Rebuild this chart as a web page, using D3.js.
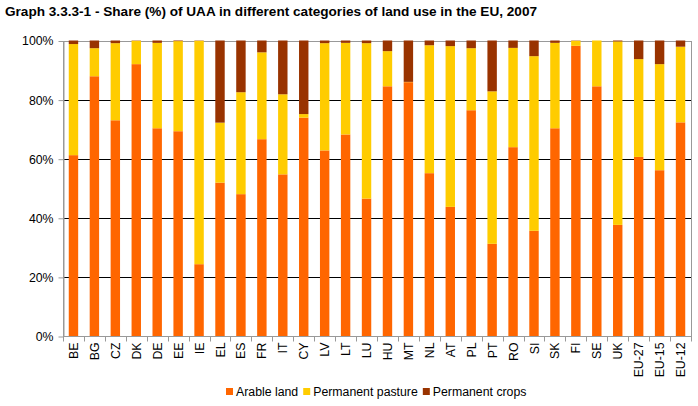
<!DOCTYPE html>
<html><head><meta charset="utf-8">
<script src="https://cdn.jsdelivr.net/npm/d3@7"></script>
<style>body{margin:0;background:#fff;}svg{display:block;font-family:"Liberation Sans",Arial,sans-serif;}</style>
</head><body>
<script>
const categories = ["BE","BG","CZ","DK","DE","EE","IE","EL","ES","FR","IT","CY","LV","LT","LU","HU","MT","NL","AT","PL","PT","RO","SI","SK","FI","SE","UK","EU-27","EU-15","EU-12"];
const arable =   [61.2,87.9,73.0,92.0,70.3,69.3,24.3,51.9,48.0,66.6,54.7,73.9,62.8,68.2,46.5,84.5,85.9,55.1,43.7,76.4,31.2,63.9,35.6,70.3,98.2,84.5,37.6,60.6,56.1,72.3];
const pasture =  [37.6, 9.5,26.1, 7.9,28.9,30.5,75.6,20.3,34.5,29.4,27.1, 1.2,36.3,31.0,52.6,11.9, 0.1,43.3,54.4,21.0,51.6,33.6,59.1,28.9, 1.7,15.5,62.1,33.1,35.9,25.6];
const crops =    [ 1.2, 2.6, 0.9, 0.1, 0.8, 0.2, 0.1,27.8,17.5, 4.0,18.2,24.9, 0.9, 0.8, 0.9, 3.6,14.0, 1.6, 1.9, 2.6,17.2, 2.5, 5.3, 0.8, 0.1, 0.0, 0.3, 6.3, 8.0, 2.1];
const seriesNames = ["Arable land","Permanent pasture","Permanent crops"];
const yTicks = [0,20,40,60,80,100];
const title = "Graph 3.3.3-1 - Share (%) of UAA in different categories of land use in the EU, 2007";

const W=698,H=406;
const m={l:63,r:7,t:40.5,b:70};
const colors=["#FF6600","#FFCC00","#993300"];
const svg=d3.select("body").append("svg").attr("width",W).attr("height",H);

svg.append("text").attr("x",5).attr("y",16).attr("font-size",13.6).attr("font-weight","bold").text(title);

const x=d3.scaleBand().domain(categories).range([m.l,W-m.r]).paddingInner(0.55).paddingOuter(0.275);
const y=d3.scaleLinear().domain([0,100]).range([H-m.b,m.t]);

svg.append("g").selectAll("line").data(yTicks.filter(d=>d>0&&d<100)).join("line")
 .attr("x1",m.l).attr("x2",W-m.r).attr("y1",d=>Math.round(y(d))+0.5).attr("y2",d=>Math.round(y(d))+0.5)
 .attr("stroke","#000").attr("stroke-width",1);

svg.append("rect").attr("x",m.l+0.5).attr("y",Math.round(y(100))+0.5).attr("width",W-m.r-m.l).attr("height",Math.round(y(0))-Math.round(y(100)))
 .attr("fill","none").attr("stroke","#999");

const rows=categories.map((c,i)=>({cat:c,"0":arable[i],"1":pasture[i],"2":crops[i]}));
const stack=d3.stack().keys(["0","1","2"]).offset(d3.stackOffsetExpand);
const layers=stack(rows);
svg.append("g").selectAll("g").data(layers).join("g").attr("fill",(d,i)=>colors[i])
 .selectAll("rect").data(d=>d).join("rect")
 .attr("x",d=>x(d.data.cat)).attr("width",x.bandwidth())
 .attr("y",d=>y(d[1]*100)).attr("height",d=>y(d[0]*100)-y(d[1]*100));

const ya=svg.append("g").attr("transform",`translate(${m.l+0.5},0.5)`)
 .call(d3.axisLeft(y).tickValues(yTicks).tickFormat(d=>d+"%").tickSize(5).tickSizeOuter(0));
ya.select(".domain").attr("stroke","#999");
ya.selectAll(".tick line").attr("stroke","#999");
ya.selectAll(".tick text").attr("font-size",12.3).attr("fill","#000").attr("font-family","Liberation Sans, Arial, sans-serif").attr("dx","-2");

const x0=Math.round(y(0))+0.5;
svg.append("line").attr("x1",m.l).attr("x2",W-m.r+0.5).attr("y1",x0).attr("y2",x0).attr("stroke","#999");
const step=x.step();
const bounds=d3.range(categories.length+1).map(i=>m.l+i*step);
svg.append("g").selectAll("line").data(bounds).join("line")
 .attr("x1",d=>Math.round(d)+0.5).attr("x2",d=>Math.round(d)+0.5).attr("y1",x0).attr("y2",x0+5).attr("stroke","#999");
svg.append("g").selectAll("text").data(categories).join("text")
 .attr("transform",d=>`translate(${x(d)+x.bandwidth()/2+4.5},${x0+6}) rotate(-90)`)
 .attr("text-anchor","end").attr("font-size",12.3).text(d=>d);

const lg=svg.append("g").attr("transform","translate(226,391)");
let lx=0;
seriesNames.forEach((n,i)=>{
 const g=lg.append("g").attr("transform",`translate(${lx},0)`);
 g.append("rect").attr("x",0).attr("y",-3).attr("width",7).attr("height",7).attr("fill",colors[i]);
 const t=g.append("text").attr("x",10).attr("y",4.5).attr("font-size",12.3).text(n);
 lx+=10+t.node().getComputedTextLength()+5;
});
</script>
</body></html>
